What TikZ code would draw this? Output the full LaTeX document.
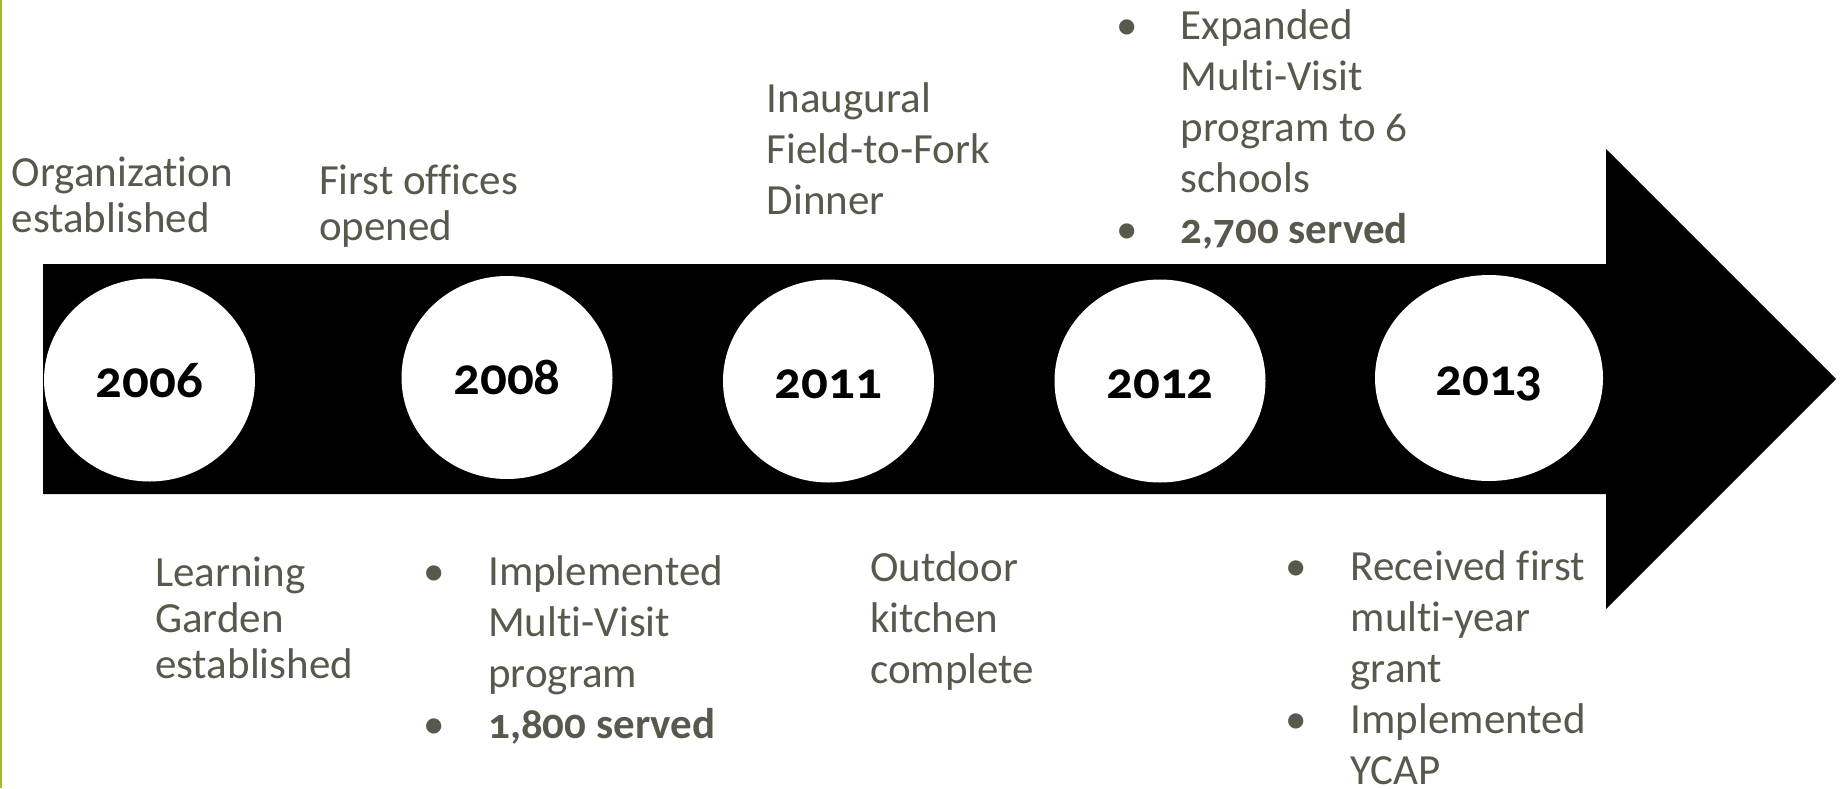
\documentclass[tikz,border=0pt]{standalone}
\usepackage{fontspec}
\setmainfont{Carlito}[Numbers=OldStyle,Ligatures=NoCommon]
\usetikzlibrary{shapes.geometric}
\definecolor{notegray}{RGB}{89,88,76}
\definecolor{leafgreen}{RGB}{163,187,36}

\begin{document}
\begin{tikzpicture}[x=1pt,y=-1pt]
  \tikzset{yearball/.style={ellipse,fill=white,inner sep=0pt,minimum width=211pt,minimum height=203pt,
      text height=40pt,text depth=6pt,font=\fontsize{53}{60}\selectfont\bfseries},
    note/.style={anchor=base west,inner sep=0pt,text=notegray,font=\fontsize{43}{46}\selectfont},
    widenote/.style={note,font=\fontsize{43}{51}\selectfont}}
  \useasboundingbox (0,0) rectangle (1841,788);
  \fill[leafgreen] (0,0) rectangle (2,788);
  \fill (43,264) -- (1606,264) -- (1606,149) -- (1836,379) -- (1606,609) -- (1606,494) -- (43,494) -- cycle;
  \node[yearball] (y2006) at (149.5,380) {2006};
  \node[yearball] (y2008) at (507,377.5) {2008};
  \node[yearball] (y2011) at (828.5,381) {2011};
  \node[yearball] (y2012) at (1160,381) {2012};
  \node[yearball,minimum width=228pt,minimum height=206pt] (y2013) at (1489,378) {2013};
  \node[note] (founded) at (11.5,186) {\begin{tabular}[t]{@{}l@{}}Organization\\established\end{tabular}};
  \node[note] (offices) at (318.8,194) {\begin{tabular}[t]{@{}l@{}}First offices\\opened\end{tabular}};
  \node[note] (garden) at (155,586.7) {\begin{tabular}[t]{@{}l@{}}Learning\\Garden\\established\end{tabular}};
  \node[widenote] (dinner) at (766.7,112.3) {\begin{tabular}[t]{@{}l@{}}Inaugural\\Field-to-Fork\\Dinner\end{tabular}};
  \node[widenote] (kitchen) at (870,581.7) {\begin{tabular}[t]{@{}l@{}}Outdoor\\kitchen\\complete\end{tabular}};
  \node[widenote] (multivisit) at (423,585) {\begin{tabular}[t]{@{}p{65pt}@{}l@{}}
      \textbullet & Implemented\\ & Multi-Visit\\ & program\\ \textbullet & \textbf{1,800 served}\end{tabular}};
  \node[widenote] (expanded) at (1116.5,39.3) {\begin{tabular}[t]{@{}p{64pt}@{}l@{}}
      \textbullet & Expanded\\ & Multi-Visit\\ & program to 6\\ & schools\\ \textbullet & \textbf{2,700 served}\end{tabular}};
  \node[widenote] (grant) at (1285.5,580) {\begin{tabular}[t]{@{}p{65pt}@{}l@{}}
      \textbullet & Received first\\ & multi-year\\ & grant\\ \textbullet & Implemented\\ & YCAP\end{tabular}};
\end{tikzpicture}
\end{document}
